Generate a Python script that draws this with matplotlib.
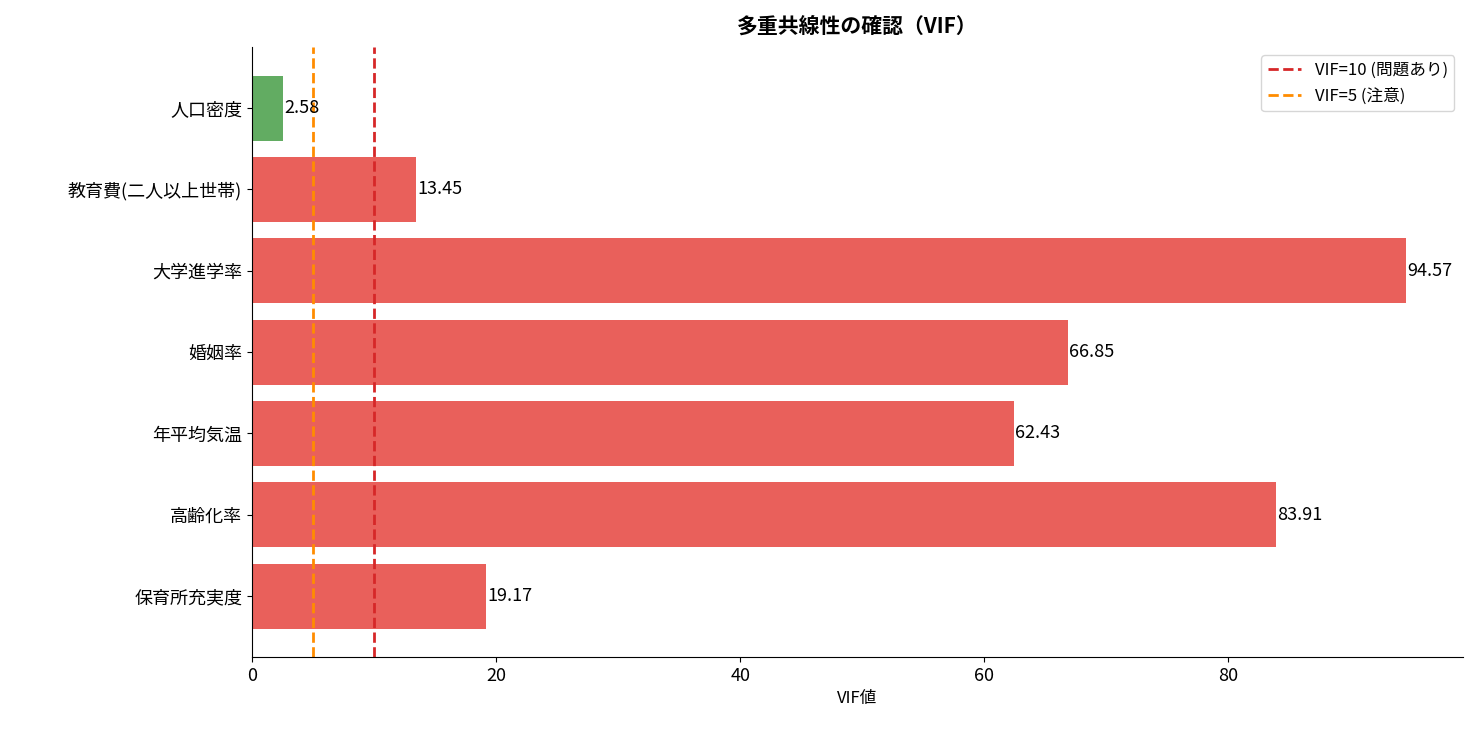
import matplotlib
matplotlib.use("Agg")
import matplotlib.pyplot as plt

plt.rcParams['font.family'] = ['Noto Sans CJK JP', 'DejaVu Sans']

features = ['保育所充実度', '高齢化率', '年平均気温', '婚姻率', '大学進学率', '教育費(二人以上世帯)', '人口密度']
vif = [19.17, 83.91, 62.43, 66.85, 94.57, 13.45, 2.58]
colors = ['#5aa85a' if v < 5 else '#e85752' for v in vif]

fig = plt.figure(figsize=(14.82, 7.35), dpi=100)
ax = fig.add_axes([0.17, 0.106, 0.817, 0.83])
bars = ax.barh(features, vif, color=colors, height=0.8, alpha=0.95)
for b, v in zip(bars, vif):
    ax.text(v + 0.1, b.get_y() + b.get_height() / 2, f'{v:.2f}', va='center', ha='left', fontsize=13)
ax.axvline(10, color='#d62728', linestyle='--', linewidth=2, label='VIF=10 (問題あり)')
ax.axvline(5, color='darkorange', linestyle='--', linewidth=2, label='VIF=5 (注意)')
ax.set_xlim(0, 99.2)
ax.set_ylim(-0.75, 6.75)
ax.set_xlabel('VIF値', fontsize=12)
ax.set_title('多重共線性の確認（VIF）', fontsize=15, fontweight='bold', pad=10)
ax.tick_params(labelsize=13)
ax.spines['top'].set_visible(False)
ax.spines['right'].set_visible(False)
ax.legend(loc='upper right', fontsize=12)
fig.savefig('out.png', dpi=100)
